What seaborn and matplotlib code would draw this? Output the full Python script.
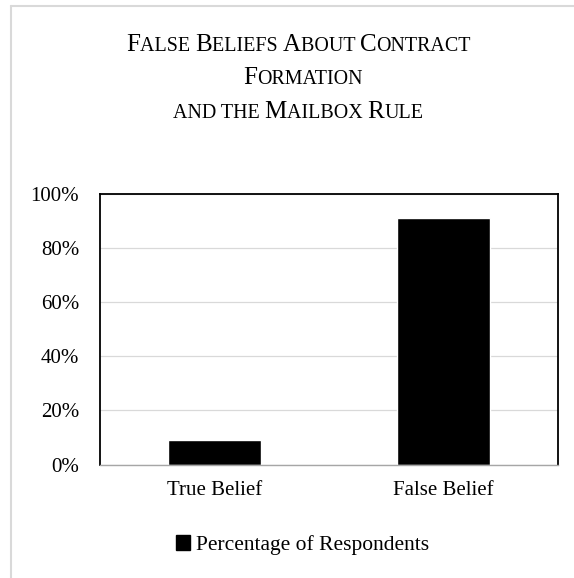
import matplotlib
matplotlib.use("Agg")
import matplotlib.pyplot as plt
from matplotlib.lines import Line2D
from matplotlib.patches import Patch
from matplotlib.ticker import FuncFormatter
import seaborn as sns

# Survey results
categories = ["True Belief", "False Belief"]
percentages = [9, 91]
series_label = "Percentage of Respondents"
title_lines = ["False Beliefs About Contract", "Formation", "and the Mailbox Rule"]
y_ticks = [0, 20, 40, 60, 80, 100]

W, H = 574, 578
sns.set_theme(style="white")
plt.rcParams["font.family"] = ["Liberation Serif", "DejaVu Serif"]
plt.rcParams["text.color"] = "black"

fig = plt.figure(figsize=(W / 100, H / 100), dpi=100)
fig.patch.set_facecolor("white")


def px(x, y):
    """Figure pixel position (origin top-left) to figure fraction."""
    return x / W, 1 - y / H


left, top = px(100, 194)
right, bottom = px(558, 464.5)
ax = fig.add_axes([left, bottom, right - left, top - bottom])

sns.barplot(x=categories, y=percentages, color="black", saturation=1,
            width=0.41, ax=ax, zorder=3)

ax.set_ylim(0, 100)
ax.set_xlim(-0.5, 1.5)
ax.set_yticks(y_ticks)
ax.yaxis.set_major_formatter(FuncFormatter(lambda v, _: f"{v:.0f}%"))
ax.set_xlabel("")
ax.set_ylabel("")
ax.grid(axis="y", color="#d9d9d9", linewidth=0.9, zorder=0)
ax.set_axisbelow(True)
ax.tick_params(axis="both", length=0, labelsize=15, colors="black")
ax.tick_params(axis="y", pad=15)
ax.tick_params(axis="x", pad=12)

for side in ("left", "top", "right"):
    ax.spines[side].set_color("black")
    ax.spines[side].set_linewidth(1.3)
ax.spines["bottom"].set_color("#a6a6a6")
ax.spines["bottom"].set_linewidth(1.0)
ax.spines["bottom"].set_zorder(4)

# Light chart-area frame along the top and left
fx0, fy0 = px(11, 6)
fig.add_artist(Line2D([fx0, fx0], [0, fy0], color="#d9d9d9", linewidth=1.5,
                      transform=fig.transFigure))
fig.add_artist(Line2D([fx0, 1], [fy0, fy0], color="#d9d9d9", linewidth=1.5,
                      transform=fig.transFigure))

# Small-caps title built from runs of two font sizes
renderer = fig.canvas.get_renderer()
BIG, SMALL = 18.0, 14.4


def advance(s, size):
    tw = fig.text(0, 0, s + "I", fontsize=size)
    ti = fig.text(0, 0, "I", fontsize=size)
    w = tw.get_window_extent(renderer).width - ti.get_window_extent(renderer).width
    tw.remove()
    ti.remove()
    return w


def small_caps_line(text, cx, baseline):
    runs = []
    for ch in text:
        big = ch.isupper()
        if runs and runs[-1][1] == big:
            runs[-1][0] += ch.upper()
        else:
            runs.append([ch.upper(), big])
    widths = [advance(s, BIG if b else SMALL) for s, b in runs]
    x = cx - sum(widths) / 2
    for (s, b), w in zip(runs, widths):
        fx, fy = px(x, baseline)
        fig.text(fx, fy, s, fontsize=BIG if b else SMALL,
                 ha="left", va="baseline", color="black")
        x += w


for line, cx, base in zip(title_lines, [298.5, 303, 298], [51, 84, 118]):
    small_caps_line(line, cx, base)

handle = Patch(facecolor="black", edgecolor="black")
fig.legend([handle], [series_label], loc="center",
           bbox_to_anchor=px(302.5, 545), frameon=False, fontsize=15.5,
           handlelength=0.65, handleheight=0.65, handletextpad=0.25)

fig.savefig("out.png", dpi=100, facecolor="white")
